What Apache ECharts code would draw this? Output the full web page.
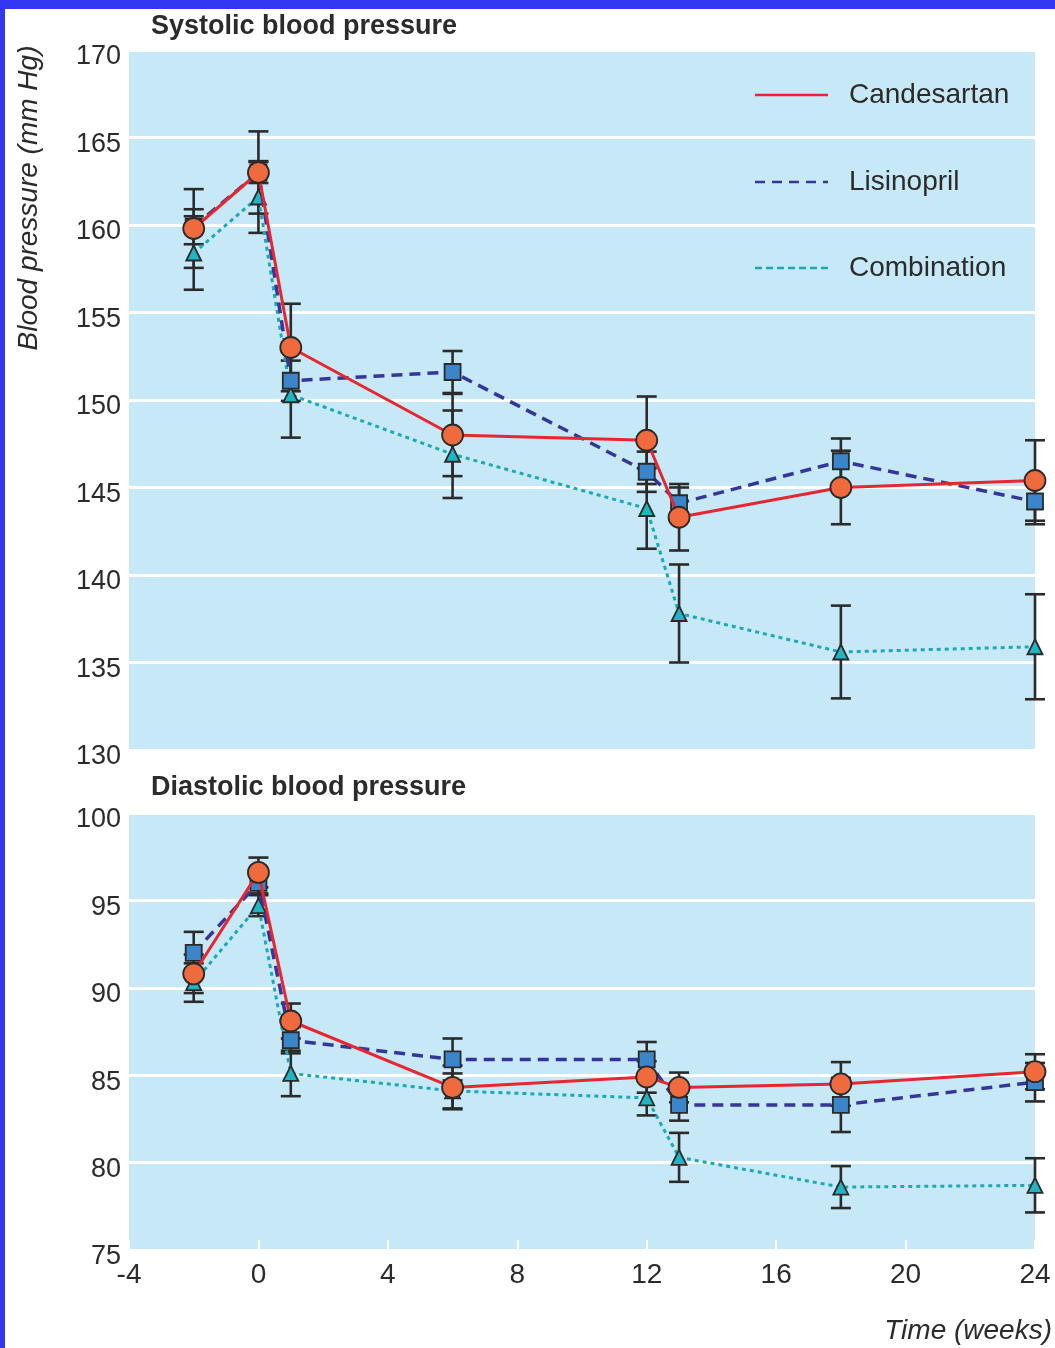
<!DOCTYPE html>
<html>
<head>
<meta charset="utf-8">
<title>Blood pressure over time</title>
<script src="https://cdn.jsdelivr.net/npm/echarts@6/dist/echarts.min.js"></script>
<style>
  html, body { margin: 0; padding: 0; background: #ffffff; }
  #wrap { position: relative; width: 1055px; height: 1348px; overflow: hidden; background: #ffffff; }
  #chart { position: absolute; left: 0; top: 0; width: 1055px; height: 1348px; }
  .edge { position: absolute; background: #3535f4; z-index: 5; }
</style>
</head>
<body>
<div id="wrap">
  <div id="chart"></div>
  <div class="edge" style="left:0;top:0;width:1055px;height:9px;"></div>
  <div class="edge" style="left:0;top:0;width:5px;height:1348px;"></div>
</div>
<script>
// Measurement times (weeks)
const weeks = [-2, 0, 1, 6, 12, 13, 18, 24];

// Systolic blood pressure, mean and error (mm Hg)
const sysCandesartan    = [159.8, 163.0, 153.0, 148.0, 147.7, 143.3, 145.0, 145.4];
const sysCandesartanErr = [2.25, 2.35, 2.5, 2.35, 2.5, 1.9, 2.1, 2.3];
const sysLisinopril     = [159.9, 163.0, 151.1, 151.6, 145.9, 144.1, 146.5, 144.2];
const sysLisinoprilErr  = [1.0, 0.6, 1.15, 1.2, 1.15, 0.9, 1.3, 1.3];
const sysCombination    = [158.4, 161.6, 150.3, 146.9, 143.8, 137.8, 135.6, 135.9];
const sysCombinationErr = [2.1, 2.05, 2.45, 2.5, 2.3, 2.8, 2.65, 3.0];

// Diastolic blood pressure, mean and error (mm Hg)
const diaCandesartan    = [90.8, 96.6, 88.1, 84.3, 84.9, 84.3, 84.5, 85.2];
const diaCandesartanErr = [1.1, 0.85, 1.0, 1.25, 0.9, 0.85, 1.25, 1.0];
const diaLisinopril     = [92.0, 96.0, 87.0, 85.9, 85.9, 83.3, 83.3, 84.6];
const diaLisinoprilErr  = [1.2, 0.6, 0.75, 1.2, 1.0, 0.9, 1.55, 1.1];
const diaCombination    = [90.3, 94.7, 85.1, 84.1, 83.7, 80.3, 78.6, 78.7];
const diaCombinationErr = [1.1, 0.6, 1.3, 1.0, 1.0, 1.4, 1.2, 1.55];

// Axis ranges and ticks
const xTicks = { min: -4, max: 24, interval: 4 };
const sysTicks = { min: 130, max: 170, interval: 5 };
const diaTicks = { min: 75, max: 100, interval: 5 };

const seriesNames = ['Candesartan', 'Lisinopril', 'Combination'];
const panelTitles = ['Systolic blood pressure', 'Diastolic blood pressure'];
const yAxisTitle = 'Blood pressure (mm Hg)';
const xAxisTitle = 'Time (weeks)';

const FONT = "'Liberation Sans', Arial, sans-serif";
const TEXT = '#2b2b2b';
const PLOT_BG = '#c6e8f7';

const styles = {
  Candesartan: { color: '#e8262f', type: 'solid', width: 3, symbol: 'circle', size: 21, fill: '#ef6a3d', z: 5, key: null },
  Lisinopril:  { color: '#35359a', type: [11, 7], width: 3.5, symbol: 'rect', size: 16, fill: '#3b86cb', z: 4, key: [10, 7] },
  Combination: { color: '#19a9bb', type: [4, 4], width: 3, symbol: 'triangle', size: 15, fill: '#1fb5c3', z: 3, key: [7, 4] }
};

function pairs(vals) { return weeks.map((w, i) => [w, vals[i]]); }

function lineSeries(name, vals, panel) {
  const s = styles[name];
  return {
    name: name,
    type: 'line',
    xAxisIndex: panel, yAxisIndex: panel,
    data: pairs(vals),
    z: s.z,
    symbol: s.symbol,
    symbolSize: s.size,
    showAllSymbol: true,
    lineStyle: { color: s.color, width: s.width, type: s.type },
    itemStyle: { color: s.fill, borderColor: '#2a2a2a', borderWidth: 1.8 },
    emphasis: { disabled: true },
    silent: true,
    animation: false
  };
}

function errorSeries(vals, errs, panel) {
  return {
    type: 'custom',
    xAxisIndex: panel, yAxisIndex: panel,
    z: 2,
    silent: true,
    animation: false,
    data: weeks.map((w, i) => [w, vals[i] - errs[i], vals[i] + errs[i]]),
    encode: { x: 0, y: [1, 2] },
    renderItem: function (params, api) {
      const lo = api.coord([api.value(0), api.value(1)]);
      const hi = api.coord([api.value(0), api.value(2)]);
      const hw = 10;
      const st = { stroke: '#2b2b2b', lineWidth: 2.6, fill: null };
      return {
        type: 'group',
        children: [
          { type: 'line', shape: { x1: hi[0], y1: hi[1], x2: lo[0], y2: lo[1] }, style: st },
          { type: 'line', shape: { x1: hi[0] - hw, y1: hi[1], x2: hi[0] + hw, y2: hi[1] }, style: st },
          { type: 'line', shape: { x1: lo[0] - hw, y1: lo[1], x2: lo[0] + hw, y2: lo[1] }, style: st }
        ]
      };
    }
  };
}

const gridBase = { left: 129, right: 20, show: true, backgroundColor: PLOT_BG, borderWidth: 0, containLabel: false };

function yAxis(panel, ticks) {
  return {
    type: 'value', gridIndex: panel,
    min: ticks.min, max: ticks.max, interval: ticks.interval,
    axisLine: { show: false }, axisTick: { show: false },
    splitLine: { show: true, lineStyle: { color: '#ffffff', width: 3 } },
    axisLabel: {
      color: TEXT, fontFamily: FONT, fontSize: 27, margin: 8,
      verticalAlign: 'top', lineHeight: 14
    }
  };
}

function xAxis(panel, showLabels) {
  return {
    type: 'value', gridIndex: panel,
    min: xTicks.min, max: xTicks.max, interval: xTicks.interval,
    axisLine: { show: false },
    splitLine: { show: false },
    axisTick: { show: showLabels, inside: true, length: 10, lineStyle: { color: '#ffffff', width: 2 } },
    axisLabel: { show: showLabels, color: TEXT, fontFamily: FONT, fontSize: 28, margin: 11 }
  };
}

// Key in the upper-right corner of the systolic panel
const legendGraphics = [];
const legendRows = [95, 182, 268];
seriesNames.forEach((name, i) => {
  const s = styles[name];
  legendGraphics.push({
    type: 'line', z: 10,
    shape: { x1: 755, y1: legendRows[i], x2: 828, y2: legendRows[i] },
    style: { stroke: s.color, lineWidth: 2.5, lineDash: s.key }
  });
  legendGraphics.push({
    type: 'text', z: 10, x: 849, y: legendRows[i],
    style: { text: name, fill: TEXT, font: "28px " + FONT, textAlign: 'left', textVerticalAlign: 'middle' }
  });
});

const option = {
  backgroundColor: '#ffffff',
  animation: false,
  title: [
    { text: panelTitles[0], left: 146, top: 8, textStyle: { color: TEXT, fontFamily: FONT, fontWeight: 'bold', fontSize: 27 } },
    { text: panelTitles[1], left: 146, top: 769, textStyle: { color: TEXT, fontFamily: FONT, fontWeight: 'bold', fontSize: 27 } }
  ],
  grid: [
    Object.assign({ top: 50, height: 700 }, gridBase),
    Object.assign({ top: 813, height: 437 }, gridBase)
  ],
  xAxis: [xAxis(0, false), xAxis(1, true)],
  yAxis: [yAxis(0, sysTicks), yAxis(1, diaTicks)],
  graphic: legendGraphics.concat([
    {
      type: 'text', z: 10, x: 29, y: 198, rotation: Math.PI / 2,
      style: { text: yAxisTitle, fill: TEXT, font: "italic 28px " + FONT, textAlign: 'center', textVerticalAlign: 'middle' }
    },
    {
      type: 'text', z: 10, x: 1052, y: 1331,
      style: { text: xAxisTitle, fill: TEXT, font: "italic 28px " + FONT, textAlign: 'right', textVerticalAlign: 'middle' }
    }
  ]),
  series: [
    errorSeries(sysCombination, sysCombinationErr, 0),
    errorSeries(sysLisinopril, sysLisinoprilErr, 0),
    errorSeries(sysCandesartan, sysCandesartanErr, 0),
    errorSeries(diaCombination, diaCombinationErr, 1),
    errorSeries(diaLisinopril, diaLisinoprilErr, 1),
    errorSeries(diaCandesartan, diaCandesartanErr, 1),
    lineSeries('Combination', sysCombination, 0),
    lineSeries('Lisinopril', sysLisinopril, 0),
    lineSeries('Candesartan', sysCandesartan, 0),
    lineSeries('Combination', diaCombination, 1),
    lineSeries('Lisinopril', diaLisinopril, 1),
    lineSeries('Candesartan', diaCandesartan, 1)
  ]
};

const chart = echarts.init(document.getElementById('chart'), null, { renderer: 'canvas' });
chart.setOption(option);
</script>
</body>
</html>
